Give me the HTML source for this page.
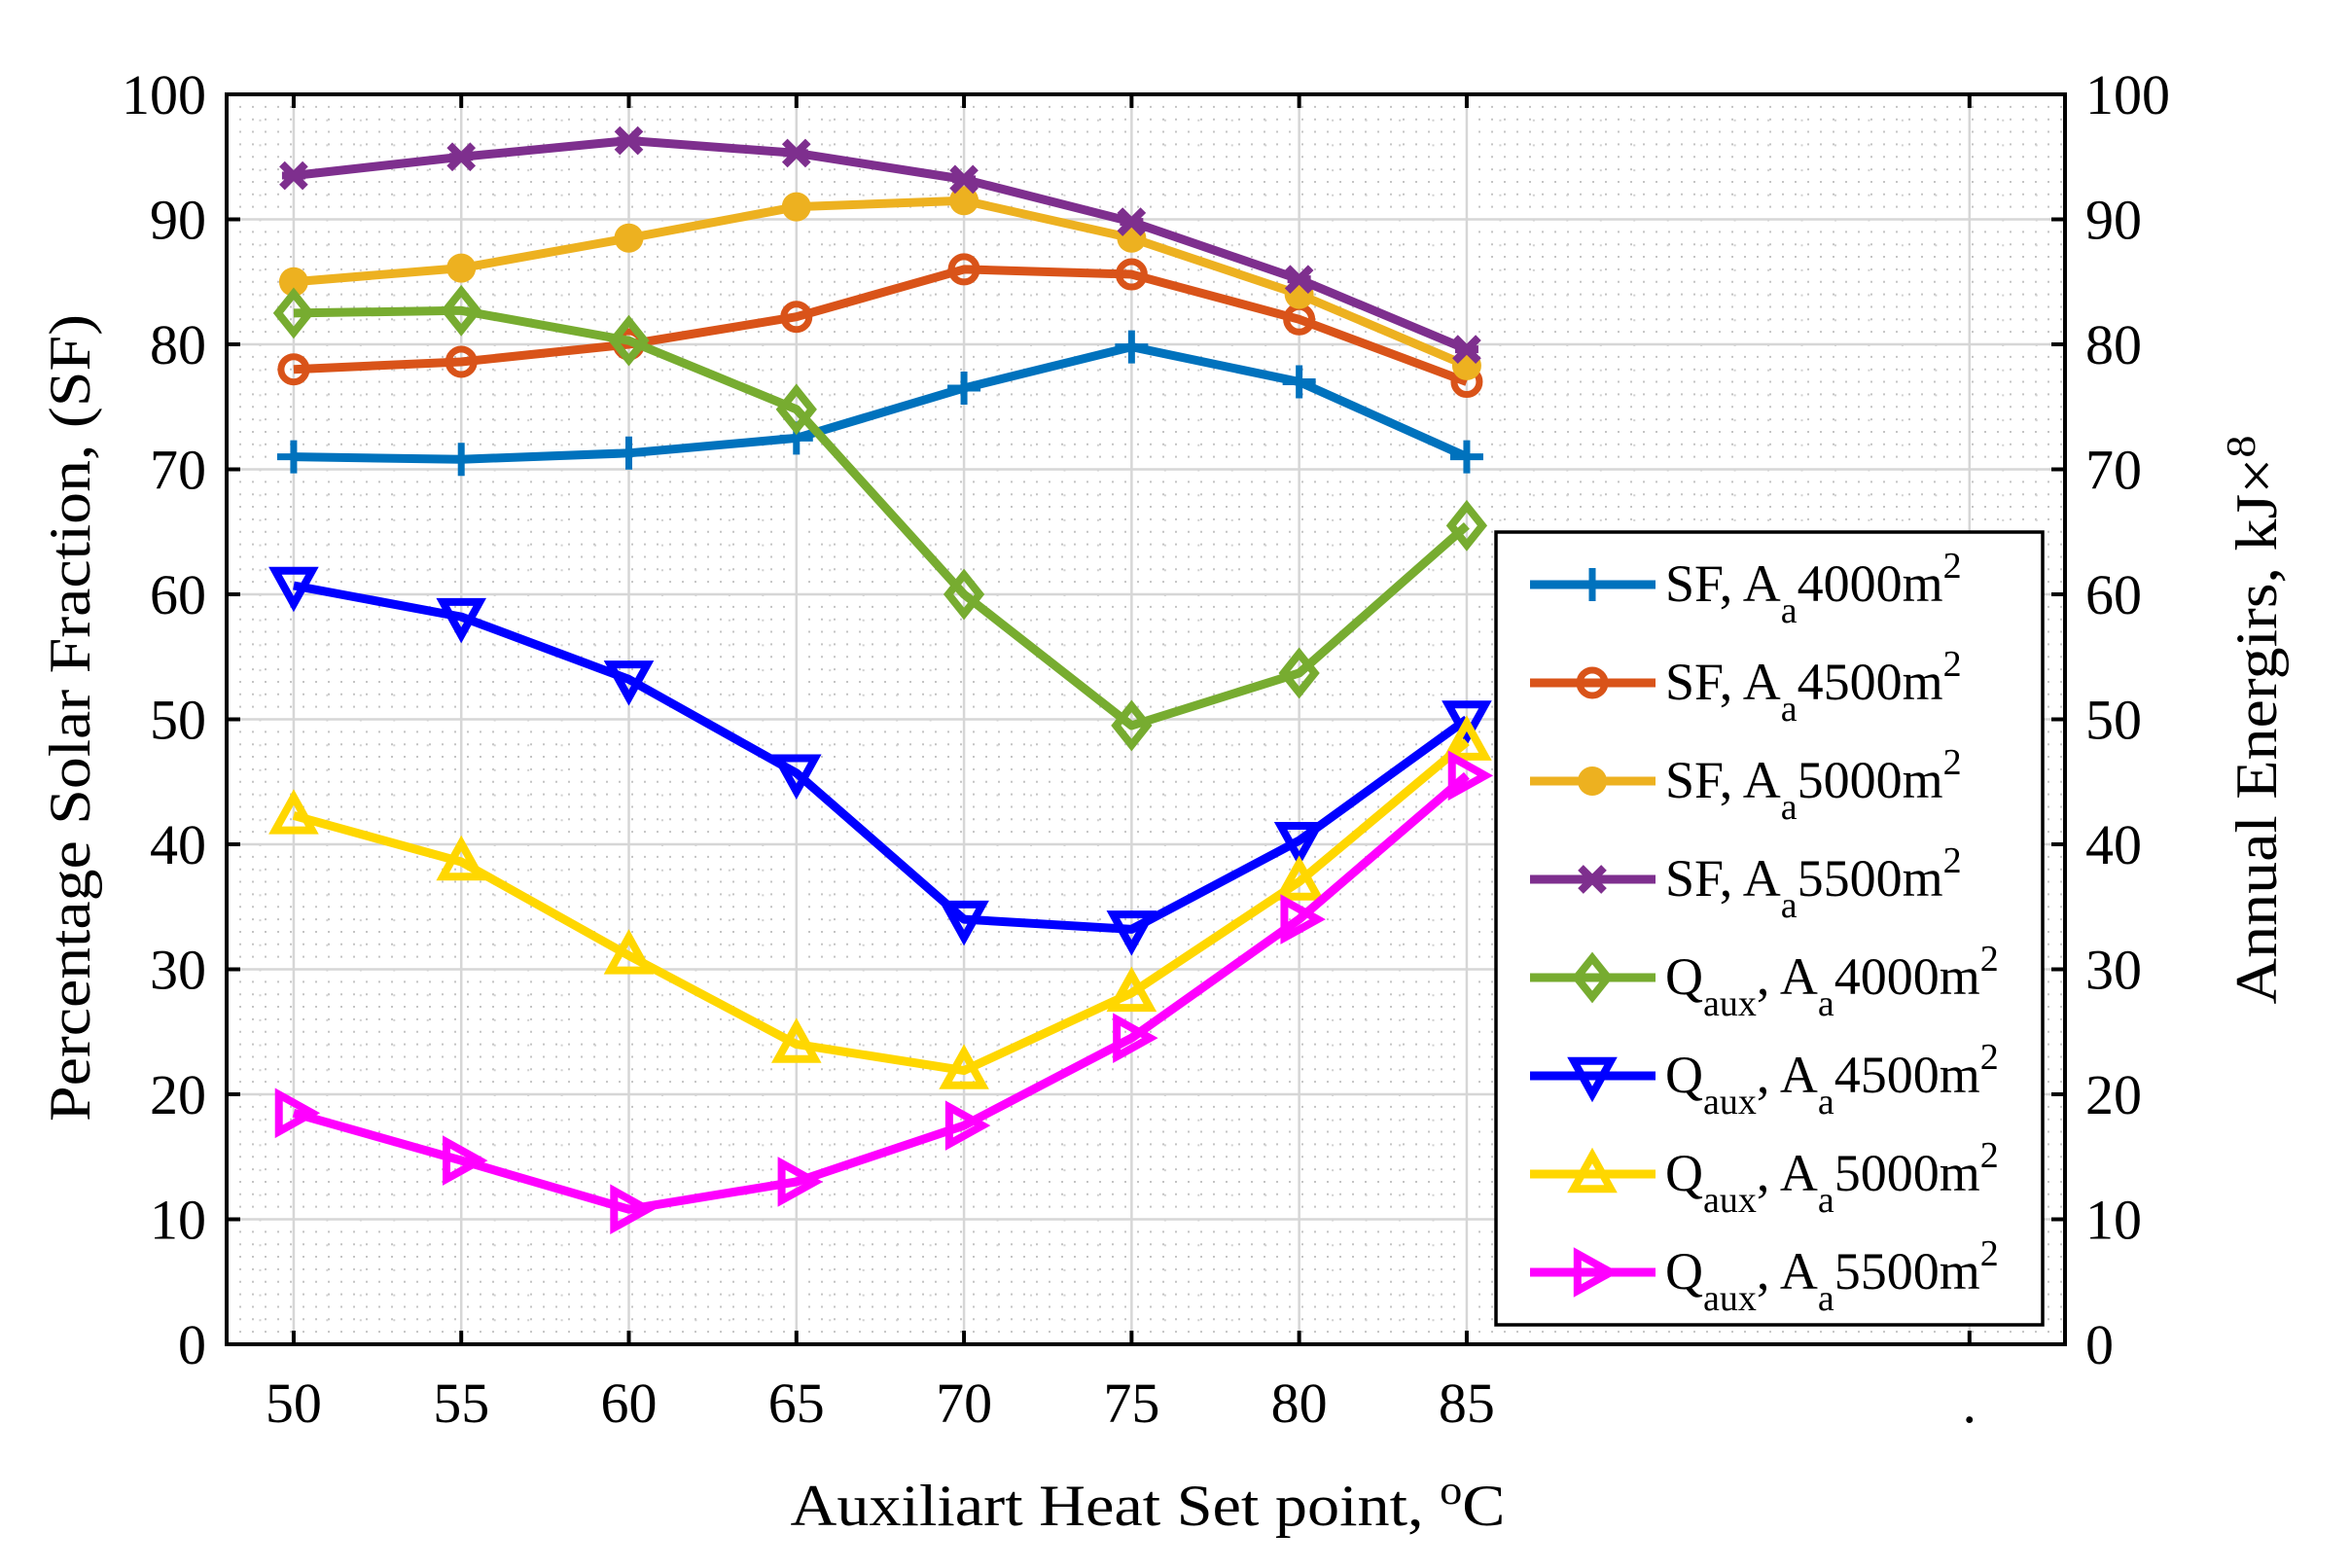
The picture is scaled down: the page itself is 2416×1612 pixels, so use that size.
<!DOCTYPE html>
<html><head><meta charset="utf-8"><style>
html,body{margin:0;padding:0;background:#fff;}
svg{display:block;font-family:"Liberation Serif",serif;}
</style></head><body>
<svg id="chart" width="2416" height="1612" viewBox="0 0 2416 1612" xmlns="http://www.w3.org/2000/svg">
<rect width="2416" height="1612" fill="#fff"/>
<g id="grid"></g>
<g id="series"></g>
<g id="axes"></g>
<g id="legend"></g>
<text x="1180" y="1568" font-size="60" text-anchor="middle" textLength="735" lengthAdjust="spacingAndGlyphs">Auxiliart Heat Set point, <tspan dy="-22" font-size="42">o</tspan><tspan dy="22">C</tspan></text>
<text transform="translate(92,738) rotate(-90)" font-size="60" text-anchor="middle" textLength="830" lengthAdjust="spacingAndGlyphs">Percentage Solar Fraction, (SF)</text>
<text transform="translate(2340,740) rotate(-90)" font-size="60" text-anchor="middle" textLength="585" lengthAdjust="spacingAndGlyphs">Annual Energirs, kJ×<tspan dy="-22" font-size="42">8</tspan></text>
</svg>
<script>
const categories = [50, 55, 60, 65, 70, 75, 80, 85];
const sf4000 = [71, 70.8, 71.3, 72.5, 76.5, 79.8, 77, 71];
const sf4500 = [78, 78.6, 80, 82.2, 86, 85.6, 82, 77];
const sf5000 = [85, 86.1, 88.5, 91, 91.5, 88.5, 84, 78.3];
const sf5500 = [93.5, 95, 96.3, 95.3, 93.2, 89.8, 85.2, 79.6];
const qaux4000 = [82.5, 82.7, 80.3, 74.8, 60, 49.5, 53.7, 65.5];
const qaux4500 = [60.7, 58.2, 53.2, 45.7, 34, 33.2, 40.3, 50];
const qaux5000 = [42.3, 38.6, 31.1, 24, 21.9, 28.1, 37, 48.2];
const qaux5500 = [18.5, 14.7, 10.8, 13, 17.5, 24.5, 34, 45.5];
const yTicks = [0, 10, 20, 30, 40, 50, 60, 70, 80, 90, 100];
const xTicks = [50, 55, 60, 65, 70, 75, 80, 85, 100];
const xTickLabels = ["50", "55", "60", "65", "70", "75", "80", "85", "."];

const NS = "http://www.w3.org/2000/svg";
const L = 233, R = 2123, T = 97, B = 1382;
const XMIN = 48, XMAX = 102.85, YMIN = 0, YMAX = 100;
function sx(v){ return L + (v - XMIN) / (XMAX - XMIN) * (R - L); }
function sy(v){ return B - (v - YMIN) / (YMAX - YMIN) * (B - T); }
function mk(tag, attrs, parent){
  const e = document.createElementNS(NS, tag);
  for (const k in attrs) e.setAttribute(k, attrs[k]);
  parent.appendChild(e); return e;
}
const grid = document.getElementById('grid');
const axes = document.getElementById('axes');
const ser = document.getElementById('series');
const leg = document.getElementById('legend');

for (let v = 1; v < 100; v++) {
  if (v % 10 === 0) continue;
  const l = mk('line', {x1: L, x2: R, y1: sy(v), y2: sy(v), stroke: '#c4c4c4', 'stroke-width': 2, 'stroke-dasharray': '2 11'}, grid);
  
  
}
for (let v = 49; v < 103; v += 1) {
  if (xTicks.includes(v)) continue;
  const l = mk('line', {x1: sx(v), x2: sx(v), y1: T, y2: B, stroke: '#d0d0d0', 'stroke-width': 2, 'stroke-dasharray': '2 23.7'}, grid);
  
  
}
yTicks.forEach(v => {
  const l = mk('line', {x1: L, x2: R, y1: sy(v), y2: sy(v), stroke: '#d6d6d6', 'stroke-width': 2.5}, grid);
  
  
});
xTicks.forEach(v => {
  const l = mk('line', {x1: sx(v), x2: sx(v), y1: T, y2: B, stroke: '#d6d6d6', 'stroke-width': 2.5}, grid);
  
  
});
const box = mk('rect', {x: L, y: T, width: R - L, height: B - T, fill: 'none', stroke: '#000', 'stroke-width': 4}, axes);


yTicks.forEach(v => {
  mk('line', {x1: L, x2: L + 14, y1: sy(v), y2: sy(v), stroke: '#000', 'stroke-width': 4}, axes);
  mk('line', {x1: R - 14, x2: R, y1: sy(v), y2: sy(v), stroke: '#000', 'stroke-width': 4}, axes);
  const t = mk('text', {x: 212, y: sy(v) + 20, 'font-size': 58, 'text-anchor': 'end'}, axes);
  t.textContent = v;
  
  
  const t2 = mk('text', {x: 2144, y: sy(v) + 20, 'font-size': 58}, axes);
  t2.textContent = v;
  
  
});
xTicks.forEach((v, i) => {
  mk('line', {x1: sx(v), x2: sx(v), y1: B, y2: B - 14, stroke: '#000', 'stroke-width': 4}, axes);
  mk('line', {x1: sx(v), x2: sx(v), y1: T, y2: T + 14, stroke: '#000', 'stroke-width': 4}, axes);
  const t = mk('text', {x: sx(v), y: 1462, 'font-size': 58, 'text-anchor': 'middle'}, axes);
  t.textContent = xTickLabels[i];
  
  
});

function marker(type, x, y, color, parent){
  let e;
  const s = 17;
  if (type === 'plus') {
    e = mk('path', {d: `M${x-s} ${y}H${x+s}M${x} ${y-s}V${y+s}`, stroke: color, 'stroke-width': 7, fill: 'none'}, parent);
  } else if (type === 'circle') {
    e = mk('circle', {cx: x, cy: y, r: 13, fill: 'none', stroke: color, 'stroke-width': 7}, parent);
  } else if (type === 'dot') {
    e = mk('circle', {cx: x, cy: y, r: 15, fill: color}, parent);
  } else if (type === 'x') {
    const a = 12;
    e = mk('path', {d: `M${x-a} ${y-a}L${x+a} ${y+a}M${x-a} ${y+a}L${x+a} ${y-a}M${x-a} ${y}H${x+a}`, stroke: color, 'stroke-width': 8, fill: 'none'}, parent);
  } else if (type === 'diamond') {
    const a = 20;
    e = mk('path', {d: `M${x} ${y-a}L${x+a*0.8} ${y}L${x} ${y+a}L${x-a*0.8} ${y}Z`, stroke: color, 'stroke-width': 8, fill: 'none'}, parent);
  } else if (type === 'down') {
    const a = 19;
    e = mk('path', {d: `M${x-a} ${y-a*0.8}H${x+a}L${x} ${y+a*1.0}Z`, stroke: color, 'stroke-width': 8, fill: 'none'}, parent);
  } else if (type === 'up') {
    const a = 19;
    e = mk('path', {d: `M${x-a} ${y+a*0.8}H${x+a}L${x} ${y-a*1.0}Z`, stroke: color, 'stroke-width': 8, fill: 'none'}, parent);
  } else if (type === 'right') {
    const a = 19;
    e = mk('path', {d: `M${x-a*0.8} ${y-a}V${y+a}L${x+a} ${y}Z`, stroke: color, 'stroke-width': 8, fill: 'none'}, parent);
  }
  return e;
}

const seriesList = [
  {name: 'sf-4000', vals: sf4000, color: '#0072BD', m: 'plus', area: '4000m', q: false},
  {name: 'sf-4500', vals: sf4500, color: '#D95319', m: 'circle', area: '4500m', q: false},
  {name: 'sf-5000', vals: sf5000, color: '#EDB120', m: 'dot', area: '5000m', q: false},
  {name: 'sf-5500', vals: sf5500, color: '#7E2F8E', m: 'x', area: '5500m', q: false},
  {name: 'qaux-4000', vals: qaux4000, color: '#77AC30', m: 'diamond', q: true, area: '4000m'},
  {name: 'qaux-4500', vals: qaux4500, color: '#0000FF', m: 'down', q: true, area: '4500m'},
  {name: 'qaux-5000', vals: qaux5000, color: '#FFD700', m: 'up', q: true, area: '5000m'},
  {name: 'qaux-5500', vals: qaux5500, color: '#FF00FF', m: 'right', q: true, area: '5500m'}
];

seriesList.forEach(s => {
  const g = mk('g', {}, ser);
  
  
  const pts = categories.map((c, i) => sx(c) + ',' + sy(s.vals[i])).join(' ');
  const pl = mk('polyline', {points: pts, fill: 'none', stroke: s.color, 'stroke-width': 9, 'stroke-linejoin': 'round'}, g);
  
  
  categories.forEach((c, i) => {
    const m = marker(s.m, sx(c), sy(s.vals[i]), s.color, g);
    
    
  });
});

const lb = mk('rect', {x: 1538, y: 547, width: 562, height: 815, fill: '#fff', stroke: '#000', 'stroke-width': 3.5}, leg);


seriesList.forEach((s, i) => {
  const y = 601 + i * 101;
  const g = mk('g', {}, leg);
  
  
  mk('line', {x1: 1573, x2: 1702, y1: y, y2: y, stroke: s.color, 'stroke-width': 9}, g);
  marker(s.m, 1637, y, s.color, g);
  const t = mk('text', {x: 1712, y: y + 17, 'font-size': 54}, g);
  if (!s.q) {
    t.innerHTML = `SF, A<tspan dy="22" font-size="38">a</tspan><tspan dy="-22">${s.area}</tspan><tspan dy="-24" font-size="38">2</tspan>`;
  } else {
    t.innerHTML = `Q<tspan dy="22" font-size="38">aux</tspan><tspan dy="-22">, A</tspan><tspan dy="22" font-size="38">a</tspan><tspan dy="-22">${s.area}</tspan><tspan dy="-24" font-size="38">2</tspan>`;
  }
});
</script>
</body></html>
